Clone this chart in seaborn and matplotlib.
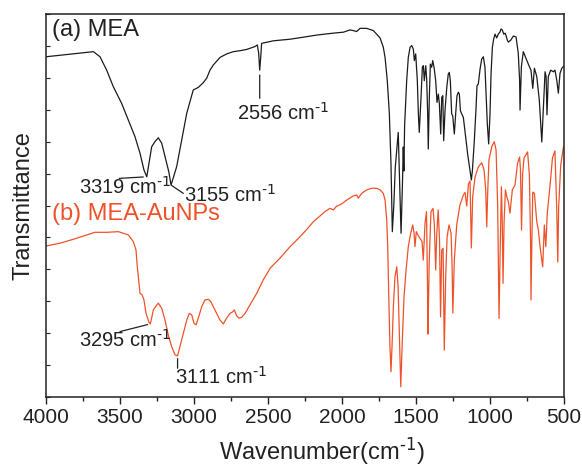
import matplotlib
matplotlib.use("Agg")
import matplotlib.pyplot as plt
import numpy as np
import pandas as pd
import seaborn as sns
from matplotlib.ticker import MultipleLocator

# ---- FTIR spectra (wavenumber in cm-1, transmittance in arbitrary units) ----
mea_wn = [4000, 3680, 3635, 3590, 3545, 3489, 3444, 3399, 3365, 3338, 3319, 3309,
          3286, 3264, 3241, 3218, 3196, 3170, 3155, 3117, 3083, 3049, 3005, 2971,
          2937, 2914, 2892, 2870, 2824, 2779, 2734, 2689, 2644, 2588, 2572, 2563,
          2556, 2549, 2543, 2464, 2351, 2238, 2171, 2059, 1991, 1946, 1924, 1901,
          1878, 1833, 1788, 1743, 1721, 1709, 1694, 1680, 1669, 1660, 1650, 1640,
          1620, 1610, 1601, 1592, 1586, 1582, 1577, 1563, 1552, 1540, 1529, 1518,
          1511, 1502, 1491, 1484, 1478, 1466, 1457, 1450, 1444, 1434, 1428, 1421,
          1417, 1410, 1403, 1394, 1387, 1378, 1367, 1358, 1349, 1342, 1333, 1326,
          1319, 1313, 1304, 1292, 1282, 1275, 1268, 1259, 1252, 1241, 1232, 1223,
          1214, 1207, 1200, 1191, 1180, 1169, 1151, 1135, 1126, 1119, 1106, 1094,
          1088, 1079, 1067, 1056, 1045, 1034, 1027, 1018, 1009, 1000, 993, 984,
          975, 966, 955, 944, 932, 926, 917, 907, 898, 892, 883, 876, 860, 842,
          824, 809, 800, 797, 788, 775, 752, 734, 723, 711, 700, 684, 667, 650,
          640, 628, 621, 615, 606, 590, 572, 561, 549, 538, 527, 515, 505, 500]
mea_t = [106.6, 108.2, 106.6, 102.4, 97.2, 92.0, 86.8, 81.6, 76.4, 71.1, 69.0, 71.7,
         78.4, 80.0, 81.2, 79.5, 75.3, 70.5, 66.4, 72.2, 80.5, 88.9, 96.2, 97.0,
         98.5, 99.9, 102.4, 104.0, 106.4, 107.5, 108.2, 108.5, 108.9, 109.8, 110.3, 107.7,
         102.4, 106.6, 110.8, 111.6, 112.1, 112.9, 113.4, 114.0, 114.3, 115.0, 114.8, 114.5,
         115.5, 115.5, 114.8, 112.5, 109.6, 106.4, 99.1, 88.7, 73.0, 51.8, 60.0, 72.0,
         82.9, 66.0, 51.3, 66.0, 78.3, 70.8, 85.0, 99.1, 106.4, 109.6, 110.1, 109.0,
         105.4, 107.5, 99.1, 88.7, 82.9, 93.9, 103.3, 103.8, 99.1, 103.8, 99.6, 88.7,
         77.7, 93.9, 104.3, 103.3, 105.4, 103.3, 99.1, 92.3, 94.9, 91.8, 82.4, 93.9,
         94.4, 80.3, 89.7, 97.0, 101.2, 101.7, 99.1, 88.7, 88.1, 82.4, 88.7, 94.4,
         95.5, 94.9, 89.7, 88.7, 87.6, 83.4, 76.1, 70.9, 68.0, 70.9, 80.3, 90.8,
         97.5, 98.1, 102.8, 105.9, 106.6, 103.3, 96.0, 85.5, 79.3, 88.7, 101.2, 109.6,
         112.2, 113.7, 112.5, 113.7, 114.4, 115.3, 115.0, 113.7, 114.0, 113.3, 111.8, 111.2, 111.8, 113.1,
         112.8, 107.7, 99.3, 89.9, 103.5, 108.2, 105.6, 103.5, 102.4, 96.7, 103.0, 100.4, 93.1, 79.9,
         89.9, 101.9, 100.4, 88.4, 100.4, 102.4, 101.9, 102.4, 99.3, 95.2, 101.4, 103.0, 103.5, 103.6]

aunp_wn = [4000, 3905, 3816, 3703, 3669, 3590, 3511, 3478, 3444, 3410, 3392, 3383,
           3374, 3365, 3351, 3338, 3324, 3305, 3295, 3285, 3275, 3252, 3241, 3218,
           3196, 3174, 3151, 3128, 3111, 3095, 3072, 3049, 3032, 3015, 3000, 2986,
           2971, 2948, 2926, 2903, 2887, 2870, 2847, 2824, 2802, 2779, 2757, 2738,
           2728, 2711, 2696, 2678, 2655, 2622, 2576, 2532, 2486, 2464, 2419, 2351,
           2284, 2238, 2194, 2149, 2115, 2081, 2059, 2036, 2002, 1968, 1924, 1901,
           1890, 1867, 1833, 1799, 1765, 1743, 1721, 1709, 1698, 1691, 1684, 1676,
           1669, 1662, 1653, 1642, 1630, 1621, 1613, 1603, 1594, 1581, 1567, 1552,
           1536, 1522, 1513, 1507, 1498, 1480, 1466, 1459, 1451, 1439, 1429, 1421,
           1419, 1411, 1399, 1385, 1376, 1367, 1360, 1350, 1341, 1334, 1326, 1317,
           1309, 1299, 1290, 1277, 1263, 1256, 1251, 1241, 1225, 1203, 1180, 1169,
           1157, 1146, 1135, 1126, 1117, 1101, 1079, 1056, 1040, 1029, 1022, 1015,
           1007, 988, 971, 959, 948, 939, 930, 923, 917, 912, 905, 896, 887, 876,
           865, 858, 849, 831, 814, 800, 794, 787, 780, 770, 746, 734, 726, 723,
           717, 711, 700, 684, 673, 662, 644, 633, 623, 613, 594, 578, 561, 549,
           542, 536, 522, 505, 500]
aunp_t = [47.3, 48.2, 49.4, 51.1, 51.6, 51.6, 51.8, 51.3, 50.8, 48.7, 46.1, 40.8,
          36.7, 32.5, 32.0, 30.4, 26.2, 23.5, 22.9, 25.0, 27.3, 28.8, 29.4, 27.8,
          24.1, 19.4, 15.8, 13.2, 12.9, 15.8, 20.0, 24.1, 26.2, 25.7, 23.1, 22.6,
          24.7, 28.3, 30.4, 30.6, 29.9, 28.3, 26.2, 24.1, 22.9, 24.7, 26.2, 26.7,
          27.3, 25.4, 24.7, 25.0, 26.2, 28.8, 32.5, 36.7, 40.3, 41.4, 43.5, 47.1,
          50.2, 52.5, 54.9, 56.7, 58.1, 59.1, 58.6, 59.8, 60.5, 61.7, 63.0, 63.3,
          62.3, 63.8, 64.9, 65.4, 65.4, 64.9, 63.8, 61.7, 55.5, 47.1, 31.4, 15.8,
          7.9, 15.8, 28.3, 37.7, 40.8, 34.6, 21.0, 3.2, 15.8, 31.4, 39.8, 47.1,
          51.3, 53.9, 51.3, 47.1, 51.8, 50.2, 49.2, 48.7, 42.9, 54.4, 58.1, 30.4,
          19.7, 41.9, 58.0, 59.1, 53.9, 39.8, 50.8, 58.6, 49.2, 25.1, 46.1, 46.6,
          14.7, 38.2, 50.1, 53.9, 51.3, 40.8, 26.3, 42.9, 53.9, 60.2, 63.3, 64.1,
          59.8, 66.7, 67.7, 46.7, 62.7, 68.9, 72.1, 73.4, 71.1, 64.9, 53.3, 64.9,
          74.3, 78.4, 80.0, 77.4, 59.6, 24.6, 49.2, 65.9, 54.4, 35.6, 54.4, 64.9, 62.8, 61.2,
          57.6, 60.7, 64.9, 66.4, 73.2, 75.2, 71.1, 52.3, 69.6, 74.9, 76.8, 69.6, 49.2, 30.4,
          49.2, 64.2, 63.8, 54.9, 52.3, 47.1, 40.8, 53.9, 47.1, 57.6, 66.4, 74.9, 77.1, 58.6,
          42.3, 59.6, 72.7, 78.0, 78.5]

# labelled band positions (cm-1)
mea_bands = [3319, 3155, 2556]
aunp_bands = [3295, 3111]

BLACK = "#1c1c1c"
RED = "#ee5229"
INK = "#222222"
SUP = r"$^{\text{-1}}$"

sns.set_theme(style="white")
plt.rcParams["font.family"] = ["Liberation Sans", "DejaVu Sans"]
plt.rcParams["mathtext.default"] = "regular"

spectra = pd.concat([
    pd.DataFrame({"wn": mea_wn, "T": mea_t, "sample": "MEA"}),
    pd.DataFrame({"wn": aunp_wn, "T": aunp_t, "sample": "MEA-AuNPs"}),
])

fig = plt.figure(figsize=(5.82, 4.66), dpi=100)
ax = fig.add_axes([46 / 582, 1 - 397 / 466, 518 / 582, 383 / 466])

sns.lineplot(data=spectra, x="wn", y="T", hue="sample",
             palette={"MEA": BLACK, "MEA-AuNPs": RED},
             estimator=None, sort=True, linewidth=0.9, legend=False, ax=ax)

ax.set_xlim(4000, 500)
ax.set_ylim(0, 120)
ax.xaxis.set_major_locator(MultipleLocator(500))
ax.xaxis.set_minor_locator(MultipleLocator(250))
ax.yaxis.set_major_locator(MultipleLocator(10))
ax.tick_params(axis="x", which="major", direction="out", length=5, width=1.0,
               labelsize=15, pad=3, colors=INK, bottom=True)
ax.tick_params(axis="x", which="minor", direction="out", length=3, width=1.0,
               colors=INK, bottom=True)
ax.tick_params(axis="y", which="major", direction="in", length=3, width=0.8,
               left=True, labelleft=False, colors=INK)
for sp in ax.spines.values():
    sp.set_color(INK)
    sp.set_linewidth(1.1)

ax.set_xlabel("Wavenumber(cm" + SUP + ")", fontsize=17, color=INK)
ax.set_ylabel("Transmittance", fontsize=17, color=INK, labelpad=8)
ax.xaxis.set_label_coords(0.532, -0.100)

ax.text(0.012, 0.958, "(a) MEA", transform=ax.transAxes, fontsize=17,
        color=INK, ha="left", va="center")
ax.text(0.012, 0.478, "(b) MEA-AuNPs", transform=ax.transAxes, fontsize=17,
        color=RED, ha="left", va="center")

mea = dict(zip(mea_wn, mea_t))
aunp = dict(zip(aunp_wn, aunp_t))

# (band, curve lookup, leader start, shrink at band end [pt], text anchor)
notes = [
    (3319, mea, (3505, 68.5), 2.5, (3775, 63.8)),
    (3155, mea, (3072, 63.8), 0.5, (3068, 61.2)),
    (2556, mea, (2556, 93.6), 3.5, (2711, 86.8)),
    (3295, aunp, (3500, 20.5), 2.0, (3775, 15.6)),
    (3111, aunp, (3111, 9.0), 2.0, (3128, 4.1)),
]
for band, curve, start, shrink, txt in notes:
    ax.annotate("", xy=(band, curve[band]), xytext=start,
                arrowprops=dict(arrowstyle="-", color=INK, lw=0.9,
                                shrinkA=0, shrinkB=shrink))
    ax.text(txt[0], txt[1], f"{band} cm" + SUP, fontsize=14.5,
            color=INK, ha="left", va="baseline")

fig.savefig("out.png", dpi=100, facecolor="white")
